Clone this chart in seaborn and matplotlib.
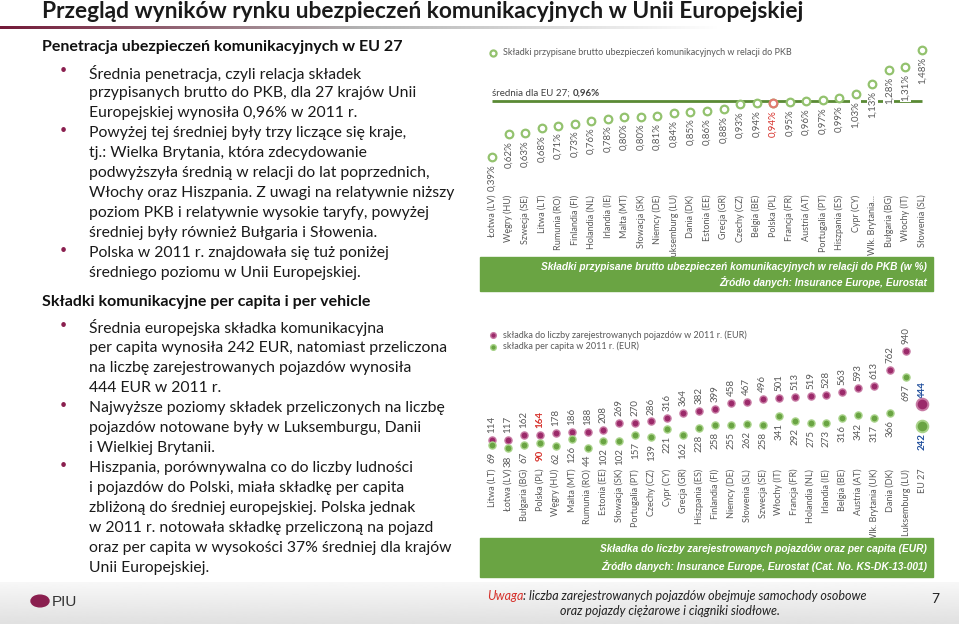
import numpy as np
import pandas as pd
import seaborn as sns
import matplotlib.pyplot as plt
from matplotlib import font_manager
from matplotlib.patches import Rectangle, Circle

# penetracja: składki przypisane brutto / PKB (%), 2011
pen_countries = ['Łotwa (LV)', 'Węgry (HU)', 'Szwecja (SE)', 'Litwa (LT)', 'Rumunia (RO)',
                 'Finlandia (FI)', 'Holandia (NL)', 'Irlandia (IE)', 'Malta (MT)', 'Słowacja (SK)',
                 'Niemcy (DE)', 'Luksemburg (LU)', 'Dania (DK)', 'Estonia (EE)', 'Grecja (GR)',
                 'Czechy (CZ)', 'Belgia (BE)', 'Polska (PL)', 'Francja (FR)', 'Austria (AT)',
                 'Portugalia (PT)', 'Hiszpania (ES)', 'Cypr (CY)', 'Wlk. Brytania...',
                 'Bułgaria (BG)', 'Włochy (IT)', 'Słowenia (SL)']
pen_values = [0.39, 0.62, 0.63, 0.68, 0.71, 0.73, 0.76, 0.78, 0.80, 0.80, 0.81, 0.84, 0.85, 0.86,
              0.88, 0.93, 0.94, 0.94, 0.95, 0.96, 0.97, 0.99, 1.03, 1.13, 1.28, 1.31, 1.48]
pen_eu_avg = 0.96

# składka per vehicle / per capita (EUR), 2011
veh_countries = ['Litwa (LT)', 'Łotwa (LV)', 'Bułgaria (BG)', 'Polska (PL)', 'Węgry (HU)',
                 'Malta (MT)', 'Rumunia (RO)', 'Estonia (EE)', 'Słowacja (SK)', 'Portugalia (PT)',
                 'Czechy (CZ)', 'Cypr (CY)', 'Grecja (GR)', 'Hiszpania (ES)', 'Finlandia (FI)',
                 'Niemcy (DE)', 'Słowenia (SL)', 'Szwecja (SE)', 'Włochy (IT)', 'Francja (FR)',
                 'Holandia (NL)', 'Irlandia (IE)', 'Belgia (BE)', 'Austria (AT)',
                 'Wlk. Brytania (UK)', 'Dania (DK)', 'Luksemburg (LU)', 'EU 27']
per_vehicle = [114, 117, 162, 164, 178, 186, 188, 208, 269, 270, 286, 316, 364, 382, 399, 458,
               467, 496, 501, 513, 519, 528, 563, 593, 613, 762, 940, 444]
per_capita = [69, 38, 67, 90, 62, 126, 44, 102, 102, 157, 139, 221, 162, 228, 258, 255, 262,
              258, 341, 292, 275, 273, 316, 342, 317, 366, 697, 242]

sec1_lines = ['Średnia penetracja, czyli relacja składek',
              'przypisanych brutto do PKB, dla 27 krajów Unii',
              'Europejskiej wynosiła 0,96% w 2011 r.',
              'Powyżej tej średniej były trzy liczące się kraje,',
              'tj.: Wielka Brytania, która zdecydowanie',
              'podwyższyła średnią w relacji do lat poprzednich,',
              'Włochy oraz Hiszpania. Z uwagi na relatywnie niższy',
              'poziom PKB i relatywnie wysokie taryfy, powyżej',
              'średniej były również Bułgaria i Słowenia.',
              'Polska w 2011 r. znajdowała się tuż poniżej',
              'średniego poziomu w Unii Europejskiej.']
sec1_bullets = [0, 3, 9]
sec2_lines = ['Średnia europejska składka komunikacyjna',
              'per capita wynosiła 242 EUR, natomiast przeliczona',
              'na liczbę zarejestrowanych pojazdów wynosiła',
              '444 EUR w 2011 r.',
              'Najwyższe poziomy składek przeliczonych na liczbę',
              'pojazdów notowane były w Luksemburgu, Danii',
              'i Wielkiej Brytanii.',
              'Hiszpania, porównywalna co do liczby ludności',
              'i pojazdów do Polski, miała składkę per capita',
              'zbliżoną do średniej europejskiej. Polska jednak',
              'w 2011 r. notowała składkę przeliczoną na pojazd',
              'oraz per capita w wysokości 37% średniej dla krajów',
              'Unii Europejskiej.']
sec2_bullets = [0, 4, 7]

W, H = 959, 624
MAROON = '#8a1f4f'
GREEN = '#6aa443'
GREEN_DARK = '#5a8a34'
GREEN_LIGHT = '#93c26e'
GREY = '#595959'
RED = '#d6312b'
BLUE = '#1f4e9c'

# wąska czcionka do pasków, jeśli jest
installed = {f.name for f in font_manager.fontManager.ttflist}
if 'Liberation Sans Narrow' in installed:
    NARROW, BAN_FS = ['Liberation Sans Narrow', 'DejaVu Sans'], 9.2
else:
    NARROW, BAN_FS = ['Liberation Sans', 'DejaVu Sans'], 7.3


def fx(x):
    return x / W


def fy(y):
    return 1 - y / H


sns.set_theme(style='white')
plt.rcParams['font.family'] = ['Lato', 'DejaVu Sans']

fig = plt.figure(figsize=(9.59, 6.24), dpi=100)
fig.patch.set_facecolor('white')

# tytuł + linia pod nim
fig.text(fx(42), fy(12), 'Przegląd wyników rynku ubezpieczeń komunikacyjnych w Unii Europejskiej',
         fontsize=16.4, fontweight='bold', color='#1a1a1a', va='center', ha='left')
grad_ax = fig.add_axes([0, fy(29), fx(720), 3 / H])
grad = np.linspace(0, 1, 256)
cols = np.zeros((1, 256, 4))
c_start = np.array([0.45, 0.10, 0.22])
c_mid = np.array([0.70, 0.70, 0.70])
for i, t in enumerate(grad):
    if t < 0.5:
        c = c_start + (c_mid - c_start) * (t / 0.5)
        a = 1.0
    else:
        c = c_mid
        a = 1 - (t - 0.5) / 0.5
    cols[0, i, :3] = c
    cols[0, i, 3] = a
grad_ax.imshow(cols, aspect='auto')
grad_ax.axis('off')


def text_block(header, header_y, lines, bullets, y0):
    fig.text(fx(42), fy(header_y), header, fontsize=11.5, fontweight='bold', color='#111111',
             va='center', ha='left')
    for i, line in enumerate(lines):
        y = y0 + 20 * i
        if i in bullets:
            fig.text(fx(63), fy(y - 3), '•', fontsize=9, color=MAROON, va='center', ha='center')
        fig.text(fx(89), fy(y), line, fontsize=11.3, color='#1a1a1a', va='center', ha='left')


text_block('Penetracja ubezpieczeń komunikacyjnych w EU 27', 47, sec1_lines, sec1_bullets, 73)
text_block('Składki komunikacyjne per capita i per vehicle', 302, sec2_lines, sec2_bullets, 328)

# --- wykres 1: penetracja ---
pen = pd.DataFrame({'kraj': pen_countries, 'wartosc': pen_values})
pen['pos'] = np.arange(len(pen))
ax1 = fig.add_axes([fx(480), fy(255), fx(935) - fx(480), (255 - 40) / H])
sns.scatterplot(data=pen, x='pos', y='wartosc', ax=ax1, s=30, facecolor='white',
                edgecolor=GREEN_LIGHT, linewidth=1.6, zorder=4,
                label='Składki przypisane brutto ubezpieczeń komunikacyjnych w relacji do PKB')
pl = pen[pen['kraj'].str.startswith('Polska')]
sns.scatterplot(data=pl, x='pos', y='wartosc', ax=ax1, s=30, facecolor='white',
                edgecolor='#e07b70', linewidth=1.6, zorder=5, legend=False)
ax1.hlines(pen_eu_avg, pen['pos'].min(), pen['pos'].max(), color=GREEN_DARK, lw=2, zorder=1)
for _, r in pen.iterrows():
    col = RED if r['kraj'].startswith('Polska') else GREY
    ax1.annotate(f"{r['wartosc']:.2f}".replace('.', ',') + '%', (r['pos'], r['wartosc']),
                 xytext=(0, -5), textcoords='offset points', rotation=90, ha='center', va='top',
                 fontsize=7, color=col, zorder=3,
                 bbox=dict(boxstyle='square,pad=0.1', fc='white', ec='none'))
t_avg = ax1.text(0, pen_eu_avg + 0.035, 'średnia dla EU 27; ', fontsize=7, color='#404040',
                 ha='left', va='bottom')
ax1.annotate(f'{pen_eu_avg:.2f}'.replace('.', ',') + '%', xy=(1, 0), xycoords=t_avg,
             fontsize=7, fontweight='bold', color='#404040', ha='left', va='bottom')
ax1.set_xlim(-0.726, 26.786)
ax1.set_ylim(-0.608, 1.581)
ax1.spines['bottom'].set_position(('data', 0.02))
for s in ax1.spines.values():
    s.set_visible(False)
ax1.set_xticks(pen['pos'])
ax1.set_xticklabels(pen['kraj'], fontsize=6.5, color=GREY)
ax1.tick_params(axis='x', length=0, pad=1, labelrotation=90)
ax1.set_yticks([])
ax1.set_xlabel('')
ax1.set_ylabel('')
ax1.patch.set_alpha(0)
ax1.legend(loc='upper left', bbox_to_anchor=(0.0, 0.98), frameon=False, fontsize=6.5,
           handletextpad=0.1, borderaxespad=0, labelcolor=GREY, markerscale=0.8)

# --- wykres 2: składka per vehicle / per capita ---
veh = pd.DataFrame({'kraj': veh_countries, 'pojazd': per_vehicle, 'capita': per_capita})
veh['pos'] = np.arange(len(veh))
eu = veh['kraj'] == 'EU 27'
ax2 = fig.add_axes([fx(480), fy(537), fx(935) - fx(480), (537 - 320) / H])
sns.scatterplot(data=veh[~eu], x='pos', y='pojazd', ax=ax2, s=26, color='#9b2a6a',
                edgecolor='#c77aa3', linewidth=1.0, zorder=4,
                label='składka do liczby zarejestrowanych pojazdów w 2011 r. (EUR)')
sns.scatterplot(data=veh[~eu], x='pos', y='capita', ax=ax2, s=26, color=GREEN,
                edgecolor='#a9d38a', linewidth=1.0, zorder=4,
                label='składka per capita w 2011 r. (EUR)')
sns.scatterplot(data=veh[eu], x='pos', y='pojazd', ax=ax2, s=70, color='#9b2a6a',
                edgecolor='#c77aa3', linewidth=1.4, zorder=4, legend=False)
sns.scatterplot(data=veh[eu], x='pos', y='capita', ax=ax2, s=70, color=GREEN,
                edgecolor='#a9d38a', linewidth=1.4, zorder=4, legend=False)
for _, r in veh.iterrows():
    if r['kraj'] == 'EU 27':
        col, fw = BLUE, 'bold'
    elif r['kraj'].startswith('Polska'):
        col, fw = RED, 'bold'
    else:
        col, fw = GREY, 'normal'
    ax2.annotate(str(r['pojazd']), (r['pos'], r['pojazd']), xytext=(0, 5),
                 textcoords='offset points', rotation=90, ha='center', va='bottom',
                 fontsize=7, color=col, fontweight=fw)
    ax2.annotate(str(r['capita']), (r['pos'], r['capita']), xytext=(0, -5),
                 textcoords='offset points', rotation=90, ha='center', va='top',
                 fontsize=7, color=col, fontweight=fw)
ax2.set_xlim(-0.753, 27.816)
ax2.set_ylim(-786, 1228)
ax2.spines['bottom'].set_position(('data', -140))
for s in ax2.spines.values():
    s.set_visible(False)
ax2.set_xticks(veh['pos'])
ax2.set_xticklabels(veh['kraj'], fontsize=6.5, color=GREY)
ax2.tick_params(axis='x', length=0, pad=1, labelrotation=90)
ax2.set_yticks([])
ax2.set_xlabel('')
ax2.set_ylabel('')
ax2.patch.set_alpha(0)
ax2.legend(loc='upper left', bbox_to_anchor=(0.0, 0.97), frameon=False, fontsize=6.5,
           handletextpad=0.1, borderaxespad=0, labelcolor=GREY, markerscale=0.8,
           labelspacing=0.2)

# zielone paski z opisem
banner_kw = dict(ha='right', va='center', color='white', fontweight='bold', style='italic',
                 family=NARROW, fontsize=BAN_FS)
fig.patches.append(Rectangle((fx(480), fy(291)), fx(933) - fx(480), 34 / H,
                             transform=fig.transFigure, color=GREEN, zorder=0))
fig.text(fx(927), fy(267), 'Składki przypisane brutto ubezpieczeń komunikacyjnych w relacji do PKB (w %)',
         **banner_kw)
fig.text(fx(927), fy(282), 'Źródło danych: Insurance Europe, Eurostat', **banner_kw)
fig.patches.append(Rectangle((fx(480), fy(577)), fx(933) - fx(480), 39 / H,
                             transform=fig.transFigure, color=GREEN, zorder=0))
fig.text(fx(927), fy(549), 'Składka do liczby zarejestrowanych pojazdów oraz per capita (EUR)',
         **banner_kw)
fig.text(fx(927), fy(566), 'Źródło danych: Insurance Europe, Eurostat (Cat. No. KS-DK-13-001)',
         **banner_kw)

# stopka
foot_ax = fig.add_axes([0, 0, 1, 42 / H], zorder=-1)
foot = np.linspace(0.97, 0.88, 64).reshape(-1, 1)
foot_ax.imshow(foot, aspect='auto', cmap='gray', vmin=0, vmax=1)
foot_ax.axis('off')
fig.patches.append(Circle((fx(40), fy(601)), 9 / W, transform=fig.transFigure,
                          color=MAROON, zorder=2))
fig.text(fx(52), fy(602), 'PIU', fontsize=11, color='#333333', va='center', ha='left',
         family=NARROW)
t_uw = fig.text(fx(487), fy(596), 'Uwaga', fontsize=9, color=RED, style='italic',
                va='center', ha='left')
fig.add_artist(plt.Annotation(': liczba zarejestrowanych pojazdów obejmuje samochody osobowe',
                              xy=(1, 0.5), xycoords=t_uw, fontsize=9, color='#222222',
                              style='italic', va='center', ha='left'))
fig.text(fx(670), fy(611), 'oraz pojazdy ciężarowe i ciągniki siodłowe.', fontsize=9,
         color='#222222', style='italic', va='center', ha='center')
fig.text(fx(935), fy(599), '7', fontsize=10, color='#222222', va='center', ha='center')

fig.savefig('out.png', dpi=100)
